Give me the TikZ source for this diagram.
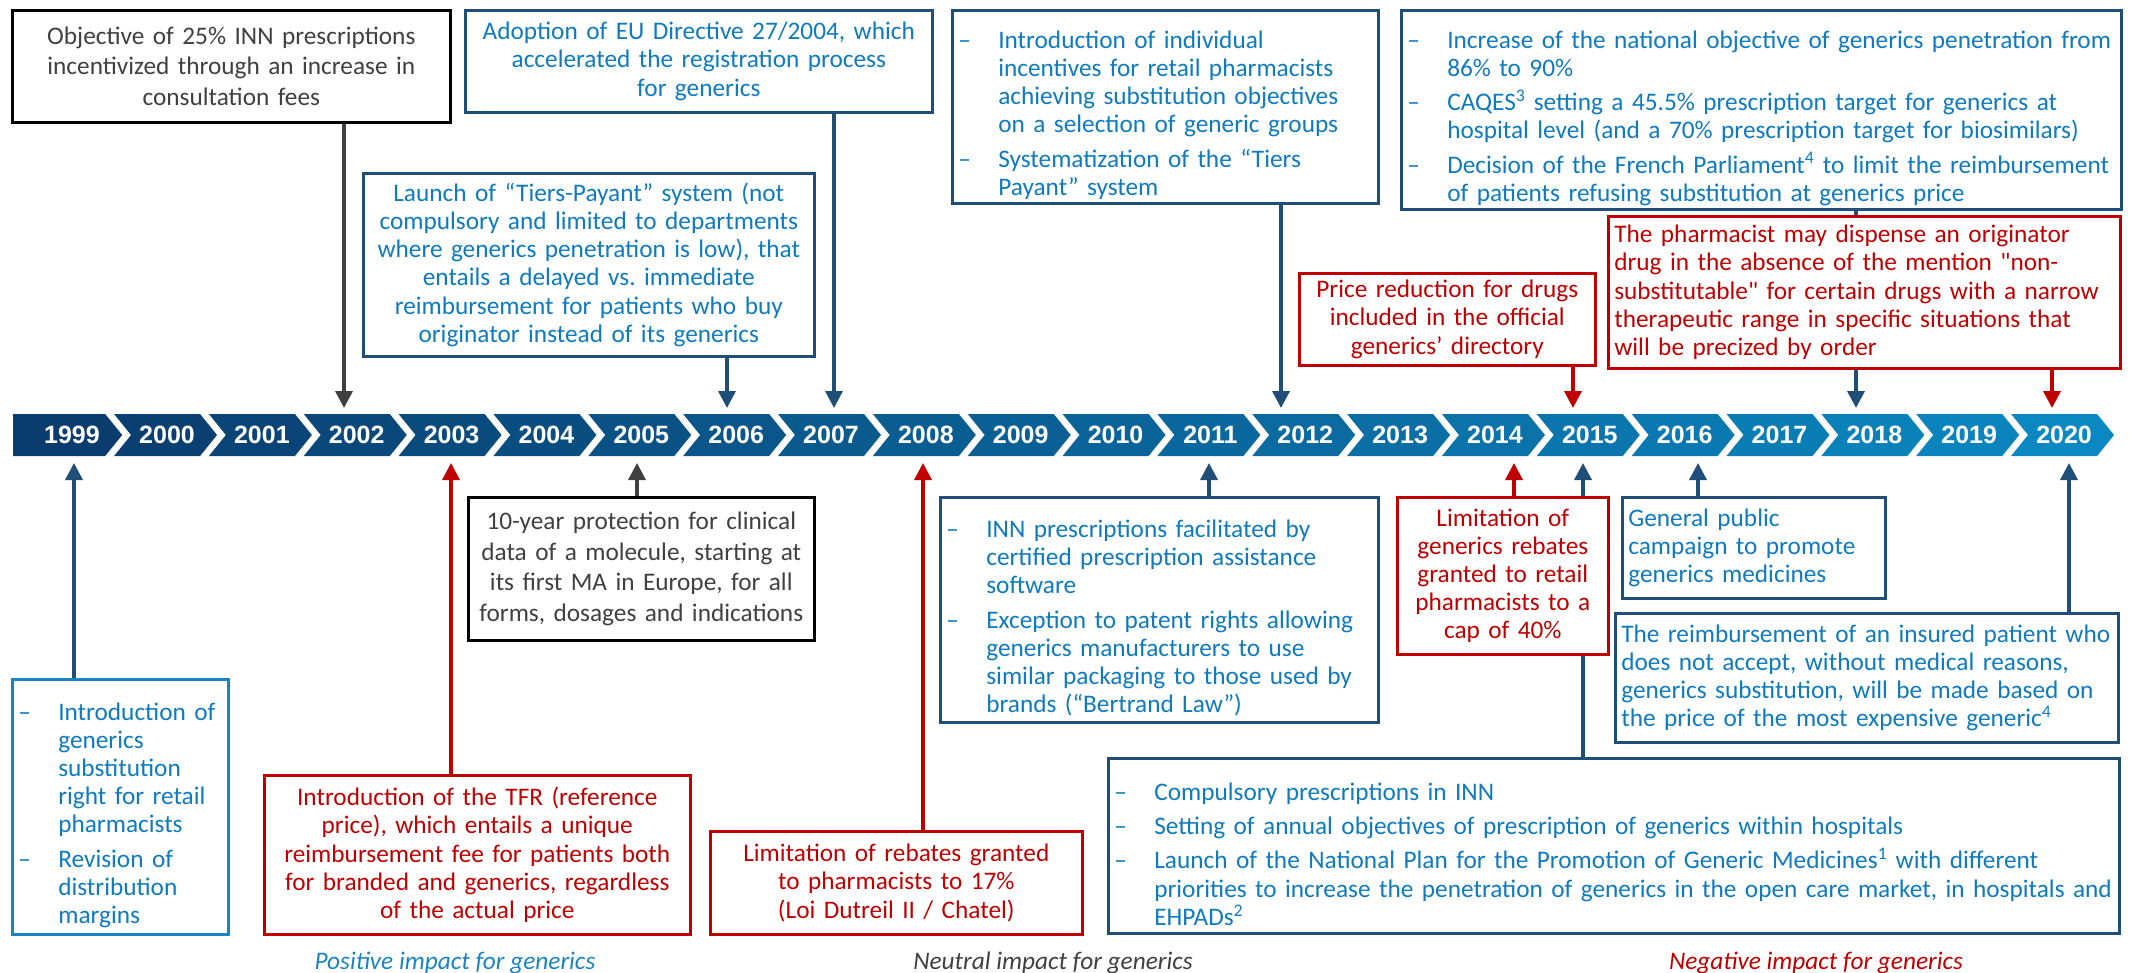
\documentclass[tikz,border=0pt]{standalone}
\usepackage{fontspec}
\setmainfont{Carlito}
\newfontfamily\yearfont{Liberation Sans}
\usetikzlibrary{arrows.meta}
\definecolor{navyc}{HTML}{1F4E79}
\definecolor{txtblue}{HTML}{0F7BBF}
\definecolor{liteblue}{HTML}{1A84C3}
\definecolor{redc}{HTML}{C00000}
\definecolor{grayc}{HTML}{404040}
\definecolor{bandL}{HTML}{0A3D6E}
\definecolor{bandR}{HTML}{0B88C2}
\newcommand\bodysize{\fontsize{25.3}{28.2}\selectfont}
\newcommand\widesize{\fontsize{25.3}{30.8}\selectfont}
\newcommand\dashitem{\par\parskip=6pt\relax\noindent\hangindent=40pt\hangafter=1\makebox[40pt][l]{–}\ignorespaces}
\newcommand\lbr{\unskip\hfil\break}
\hyphenpenalty=10000
\exhyphenpenalty=10000
\frenchspacing

\begin{document}
\begin{tikzpicture}[x=1pt,y=-1pt,
    evt/.style={draw,line width=2.6pt,fill=white,anchor=north west,inner xsep=6pt,inner ysep=3pt,font=\bodysize},
    posbox/.style={evt,draw=navyc,text=txtblue},
    negbox/.style={evt,draw=redc,text=redc},
    neubox/.style={evt,draw=black,text=grayc,font=\widesize},
    yearlbl/.style={text=white,font=\yearfont\bfseries\fontsize{25}{25}\selectfont},
    conn/.style={line width=3.5pt,-{Triangle[width=17pt,length=17pt]}},
    capt/.style={anchor=base,font=\bodysize\itshape}]
  \useasboundingbox (0,0) rectangle (2132,973);

  % timeline band
  \fill[bandL] (13,414) -- (105.2,414) -- (122.2,435) -- (105.2,456) -- (13,456) -- cycle;
  \node[yearlbl] (y1999) at (72,435) {1999};
  \foreach \i in {1,...,21}{
    \pgfmathsetmacro\s{19.2+94.85*\i}
    \pgfmathtruncatemacro\pct{100*\i/21}
    \pgfmathtruncatemacro\yr{1999+\i}
    \fill[bandR!\pct!bandL] (\s,414) -- ++(86,0) -- ++(17,21) -- ++(-17,21) -- ++(-86,0) -- ++(17,-21) -- cycle;
    \node[yearlbl] (y\yr) at (\s+53,435) {\yr};
  }
  \foreach \n/\x in {t02/344,t06/727,t07/834,t12/1281,t15/1573,t18/1856,t20/2052}
    \coordinate (\n) at (\x,408);
  \foreach \n/\x in {b99/74,b03/451,b05/637,b08/923,b11/1209,b14/1514,b15/1583,b16/1698,b20/2069}
    \coordinate (\n) at (\x,463);

  % events above the band
  \node[neubox,text width=426pt,minimum height=112pt,align=center] (obj25) at (11,9)
    {Objective of 25\% INN prescriptions\\incentivized through an increase in\\consultation fees};
  \node[posbox,text width=455pt,minimum height=102pt,align=center] (euDir) at (464,9)
    {Adoption of EU Directive 27/2004, which\\accelerated the registration process\\for generics};
  \node[posbox,text width=439pt,minimum height=183pt,align=center] (tiersPay) at (362,172)
    {Launch of “Tiers-Payant” system (not\\compulsory and limited to departments\\where generics penetration is low), that\\entails a delayed vs. immediate\\reimbursement for patients who buy\\originator instead of its generics};
  \node[posbox,text width=414pt,minimum height=193pt,align=left] (incent) at (951,9)
    {\dashitem Introduction of individual\lbr incentives for retail pharmacists\lbr achieving substitution objectives\lbr on a selection of generic groups
     \dashitem Systematization of the “Tiers\lbr Payant” system\par};
  \node[posbox,text width=708pt,minimum height=199pt,align=left] (target90) at (1400,9)
    {\dashitem Increase of the national objective of generics penetration from\lbr 86\% to 90\%
     \dashitem CAQES\textsuperscript{3} setting a 45.5\% prescription target for generics at\lbr hospital level (and a 70\% prescription target for biosimilars)
     \dashitem Decision of the French Parliament\textsuperscript{4} to limit the reimbursement\lbr of patients refusing substitution at generics price\par};
  \node[negbox,text width=284pt,minimum height=92pt,align=center] (priceRed) at (1298,272)
    {Price reduction for drugs\\included in the official\\generics’ directory};
  \node[negbox,text width=500pt,minimum height=152pt,align=left] (narrowTR) at (1607,215)
    {The pharmacist may dispense an originator\\drug in the absence of the mention \textquotedbl non-\\substitutable\textquotedbl{} for certain drugs with a narrow\\therapeutic range in specific situations that\\will be precized by order};

  % events below the band
  \node[posbox,draw=liteblue,text width=204pt,minimum height=255pt,align=left] (substRight) at (11,678)
    {\dashitem Introduction of\lbr generics\lbr substitution\lbr right for retail\lbr pharmacists
     \dashitem Revision of\lbr distribution\lbr margins\par};
  \node[negbox,text width=414pt,minimum height=159pt,align=center] (tfr) at (263,774)
    {Introduction of the TFR (reference\\price), which entails a unique\\reimbursement fee for patients both\\for branded and generics, regardless\\of the actual price};
  \node[neubox,text width=334pt,minimum height=143pt,align=center] (dataProt) at (467,496)
    {10-year protection for clinical\\data of a molecule, starting at\\its first MA in Europe, for all\\forms, dosages and indications};
  \node[negbox,text width=360pt,minimum height=103pt,align=center] (rebate17) at (709,830)
    {Limitation of rebates granted\\to pharmacists to 17\%\\(Loi Dutreil II / Chatel)};
  \node[posbox,text width=426pt,minimum height=225pt,align=left] (innSoft) at (939,496)
    {\dashitem INN prescriptions facilitated by\lbr certified prescription assistance\lbr software
     \dashitem Exception to patent rights allowing\lbr generics manufacturers to use\lbr similar packaging to those used by\lbr brands (“Bertrand Law”)\par};
  \node[negbox,text width=199pt,minimum height=157pt,align=center] (rebate40) at (1396,496)
    {Limitation of\\generics rebates\\granted to retail\\pharmacists to a\\cap of 40\%};
  \node[posbox,text width=251pt,minimum height=101pt,align=left] (campaign) at (1621,496)
    {General public\\campaign to promote\\generics medicines};
  \node[posbox,text width=491pt,minimum height=129pt,align=left] (reimbGen) at (1614,612)
    {The reimbursement of an insured patient who\\does not accept, without medical reasons,\\generics substitution, will be made based on\\the price of the most expensive generic\textsuperscript{4}};
  \node[posbox,text width=999pt,minimum height=175pt,align=left] (innPlan) at (1107,757)
    {\dashitem Compulsory prescriptions in INN
     \dashitem Setting of annual objectives of prescription of generics within hospitals
     \dashitem Launch of the National Plan for the Promotion of Generic Medicines\textsuperscript{1} with different\lbr priorities to increase the penetration of generics in the open care market, in hospitals and\lbr EHPADs\textsuperscript{2}\par};

  % connectors
  \draw[conn,grayc] (obj25.south -| t02) -- (t02);
  \draw[conn,navyc] (tiersPay.south -| t06) -- (t06);
  \draw[conn,navyc] (euDir.south -| t07) -- (t07);
  \draw[conn,navyc] (incent.south -| t12) -- (t12);
  \draw[conn,redc] (priceRed.south -| t15) -- (t15);
  \draw[line width=3.5pt,navyc] (target90.south -| t18) -- (narrowTR.north -| t18);
  \draw[conn,navyc] (narrowTR.south -| t18) -- (t18);
  \draw[conn,redc] (narrowTR.south -| t20) -- (t20);
  \draw[conn,navyc] (substRight.north -| b99) -- (b99);
  \draw[conn,redc] (tfr.north -| b03) -- (b03);
  \draw[conn,grayc] (dataProt.north -| b05) -- (b05);
  \draw[conn,redc] (rebate17.north -| b08) -- (b08);
  \draw[conn,navyc] (innSoft.north -| b11) -- (b11);
  \draw[conn,redc] (rebate40.north -| b14) -- (b14);
  \draw[line width=3.5pt,navyc] (innPlan.north -| b15) -- (rebate40.south -| b15);
  \draw[conn,navyc] (rebate40.north -| b15) -- (b15);
  \draw[conn,navyc] (campaign.north -| b16) -- (b16);
  \draw[conn,navyc] (reimbGen.north -| b20) -- (b20);

  % impact legend
  \node[capt,text=liteblue] (posImp) at (455,969) {Positive impact for generics};
  \node[capt,text=grayc] (neuImp) at (1053,969) {Neutral impact for generics};
  \node[capt,text=redc] (negImp) at (1816,969) {Negative impact for generics};
\end{tikzpicture}
\end{document}
